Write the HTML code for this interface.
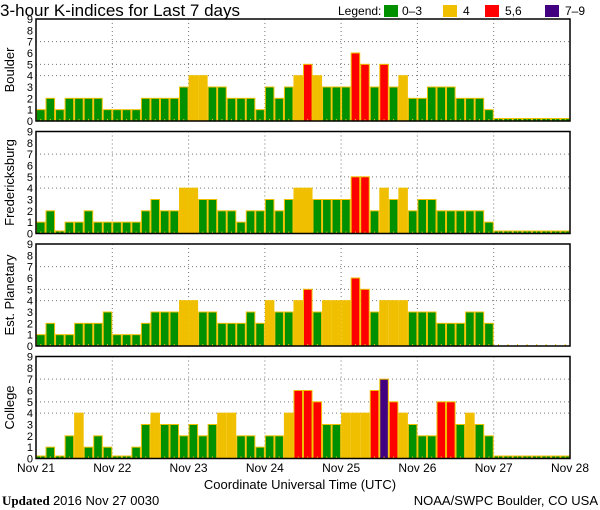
<!DOCTYPE html>
<html><head><meta charset="utf-8"><style>
body{margin:0;background:#fff;width:600px;height:510px;overflow:hidden}
svg{display:block;font-family:"Liberation Sans",sans-serif}
</style></head><body>
<svg id="c" width="600" height="510">
<text x="0" y="16" font-size="17">3-hour K-indices for Last 7 days</text>
<g font-size="12">
<text x="338" y="15">Legend:</text>
<rect x="384" y="5" width="14" height="12" fill="#009000"/>
<text x="402" y="15">0–3</text>
<rect x="443" y="5" width="14" height="12" fill="#f0c000"/>
<text x="463" y="15">4</text>
<rect x="485" y="5" width="14" height="12" fill="#ff0000"/>
<text x="505" y="15">5,6</text>
<rect x="545" y="5" width="14" height="12" fill="#400080"/>
<text x="565" y="15">7–9</text>
</g>
<text x="300" y="489" font-size="13" text-anchor="middle">Coordinate Universal Time (UTC)</text>
<text x="2" y="505" font-size="13" font-family="Liberation Serif,serif"><tspan font-weight="bold">Updated</tspan> <tspan font-family="Liberation Sans,sans-serif">2016 Nov 27 0030</tspan></text>
<text x="598" y="505" font-size="13" text-anchor="end">NOAA/SWPC Boulder, CO USA</text>
</svg>
<script>
const stations = ["Boulder","Fredericksburg","Est. Planetary","College"];
const boulder = [1,2,1,2,2,2,2,1,1,1,1,2,2,2,2,3,4,4,3,3,2,2,2,1,3,2,3,4,5,4,3,3,3,6,5,3,5,3,4,2,2,3,3,3,2,2,2,1,0,0,0,0,0,0,0,0];
const fredericksburg = [1,2,0,1,1,2,1,1,1,1,1,2,3,2,2,4,4,3,3,2,2,1,2,2,3,2,3,4,4,3,3,3,3,5,5,2,4,3,4,2,3,3,2,2,2,2,2,1,0,0,0,0,0,0,0,0];
const planetary = [1,2,1,1,2,2,2,3,1,1,1,2,3,3,3,4,4,3,3,2,2,2,3,2,4,3,3,4,5,3,4,4,4,6,5,3,4,4,4,3,3,3,2,2,2,3,3,2,null,null,null,null,null,null,null,null];
const college = [0,1,0,2,4,1,2,1,0,0,1,3,4,3,3,2,3,2,3,4,4,2,2,1,2,2,4,6,6,5,3,3,4,4,4,6,7,5,4,3,2,2,5,5,3,4,3,2,0,0,0,0,0,0,0,0];
const series = [boulder,fredericksburg,planetary,college];
const dayLabels = ["Nov 21","Nov 22","Nov 23","Nov 24","Nov 25","Nov 26","Nov 27","Nov 28"];
const yTicks = [0,1,2,3,4,5,6,7,8,9];
const gridLevels = [4,5,7];

const svg=document.getElementById('c'), NS='http://www.w3.org/2000/svg';
const X0=36,X1=570,H=102,tops=[19,131.5,244,356.5];
const N=56,bw=(X1-X0)/N;
function xs(i){return X0+i*bw;}
function dayX(d){return X0+d*(X1-X0)/7;}
function mk(t,a,p){const e=document.createElementNS(NS,t);for(const k in a)e.setAttribute(k,a[k]);(p||svg).appendChild(e);return e;}
function col(v){return v<=3?'#009000':v==4?'#f0c000':v<=6?'#ff0000':'#400080';}
series.forEach((data,p)=>{
  const top=tops[p],bot=top+H;
  const ys=v=>bot-v*H/9;
  const g=mk('g',{});
  
  
  for(let d=1;d<7;d++){const l=mk('line',{x1:dayX(d),x2:dayX(d),y1:top,y2:bot,stroke:'#777','stroke-dasharray':'1,3'},g);
    
    }
  gridLevels.forEach(v=>{const l=mk('line',{x1:X0,x2:X1,y1:ys(v),y2:ys(v),stroke:'#777','stroke-dasharray':'1,3'},g);
    
    });
  data.forEach((v,i)=>{
    if(v===null){const t=mk('line',{x1:xs(i)+bw/2,x2:xs(i)+bw/2,y1:bot-2,y2:bot,stroke:'#f0c000'},g);
      
      return;}
    const h=Math.max(v*H/9,2.5);
    const r=mk('rect',{x:xs(i)+0.5,y:bot-h,width:bw-1,height:h,fill:col(v),stroke:'#f0c000','stroke-width':1},g);
    
    
    const t=mk('line',{x1:xs(i)+bw/2,x2:xs(i)+bw/2,y1:bot-2,y2:bot,stroke:'#f0c000'},g);
    
    
  });
  const f=mk('rect',{x:X0,y:top,width:X1-X0,height:H,fill:'none',stroke:'#000','stroke-width':1.5},g);
  
  
  yTicks.forEach(v=>{const t=mk('text',{x:33,y:ys(v)+4,'font-size':11,'text-anchor':'end'},g);t.textContent=v;
    
    });
  const lab=mk('text',{x:0,y:0,'font-size':13,'text-anchor':'middle',transform:`translate(14,${top+H/2}) rotate(-90)`},g);
  lab.textContent=stations[p];
  
  
});
dayLabels.forEach((s,d)=>{const t=mk('text',{x:dayX(d),y:472,'font-size':12,'text-anchor':'middle'});t.textContent=s;
  
  });
</script>
</body></html>
